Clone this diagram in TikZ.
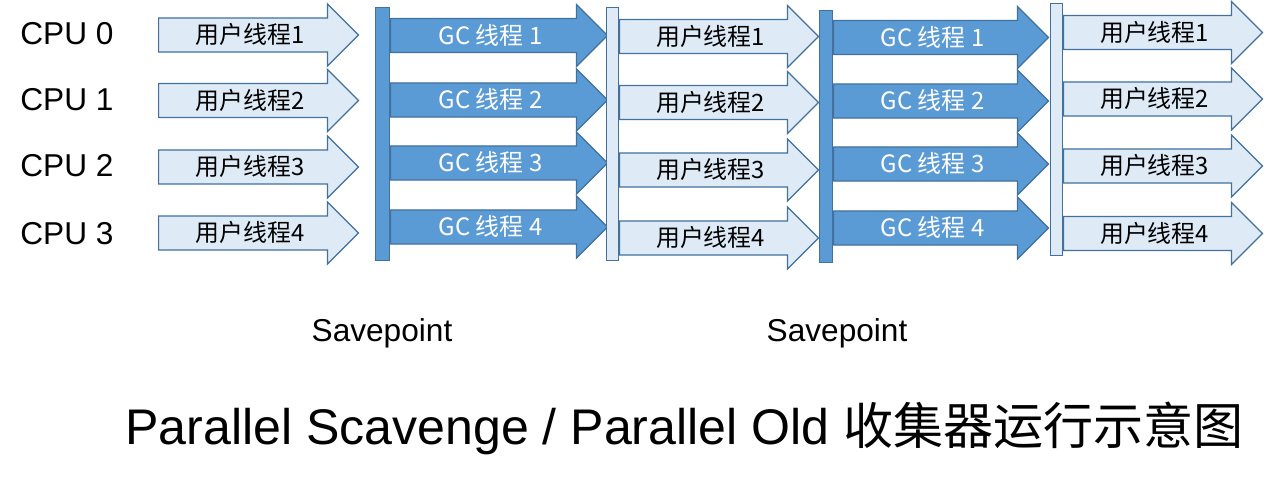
\documentclass[tikz,border=0pt]{standalone}
\usepackage{fontspec}
\setmainfont{Liberation Sans}
\newfontfamily\cjk{Noto Sans CJK SC}
\usepackage{xcolor}
\usepackage{tikz}
\usetikzlibrary{shapes.arrows}
\definecolor{claro}{HTML}{DEEBF7}
\definecolor{oscuro}{HTML}{5B9BD5}
\definecolor{borde}{HTML}{41719C}

\tikzset{
  hilo/.style={single arrow, draw=borde, line width=0.7pt, anchor=tail,
    inner xsep=2pt, inner ysep=0pt, text height=0.51cm, text depth=0.15cm,
    single arrow head extend=0.28cm, single arrow tip angle=90,
    single arrow head indent=0pt, font=\cjk\fontsize{13.6}{16}\selectfont},
  usuario/.style={hilo, fill=claro, text=black},
  gc/.style={hilo, fill=oscuro, text=white},
  barra/.style={draw=borde, line width=0.7pt, anchor=north west, inner sep=0pt},
  etiqueta/.style={inner sep=0pt, font=\fontsize{18}{21}\selectfont}
}

\begin{document}
\begin{tikzpicture}[x=0.02cm, y=-0.02cm]
        \useasboundingbox (0,0) rectangle (1280,486);
        % Etiquetas de las CPU
        \foreach \y/\n in {34/0,100/1,166/2,234/3}
            \node[etiqueta, anchor=west] (cpu\n) at (20,\y) {CPU \n};
        % Hilos de usuario antes del primer Savepoint
        \foreach \y/\n in {35/1,100.5/2,167/3,233/4}
            \node[usuario, minimum height=4cm] (ua\n) at (158,\y) {用户线程\n};
        % Hilos GC (Scavenge)
        \foreach \y/\n in {35.5/1,100/2,163/3,227/4}
            \node[gc, minimum height=4.34cm] (ga\n) at (390,\y) {GC 线程 \n};
        % Hilos de usuario intermedios
        \foreach \y/\n in {36.5/1,102.5/2,170/3,238/4}
            \node[usuario, minimum height=3.98cm] (ub\n) at (619,\y) {用户线程\n};
        % Hilos GC (Old)
        \foreach \y/\n in {37.5/1,101/2,164/3,228/4}
            \node[gc, minimum height=4.3cm] (gb\n) at (833,\y) {GC 线程 \n};
        % Hilos de usuario finales
        \foreach \y/\n in {32.5/1,99/2,166/3,233.5/4}
            \node[usuario, minimum height=3.98cm] (uc\n) at (1063,\y) {用户线程\n};
        % Barras de sincronización
        \node[barra, fill=oscuro, minimum width=0.28cm, minimum height=5.06cm] (b1) at (375,7) {};
        \node[barra, fill=claro, minimum width=0.24cm, minimum height=5.06cm] (b2) at (606,7) {};
        \node[barra, fill=oscuro, minimum width=0.26cm, minimum height=5.04cm] (b3) at (819,10) {};
        \node[barra, fill=claro, minimum width=0.24cm, minimum height=5.04cm] (b4) at (1050,3) {};
        % Savepoints
        \node[etiqueta] (sp1) at (382,333) {Savepoint};
        \node[etiqueta] (sp2) at (837,333) {Savepoint};
        % Título
        \node[inner sep=0pt, anchor=west, font=\fontsize{28.5}{32}\selectfont] (titulo) at (125,428)
            {Parallel Scavenge / Parallel Old {\cjk 收集器运行示意图}};
    \end{tikzpicture}
\end{document}
